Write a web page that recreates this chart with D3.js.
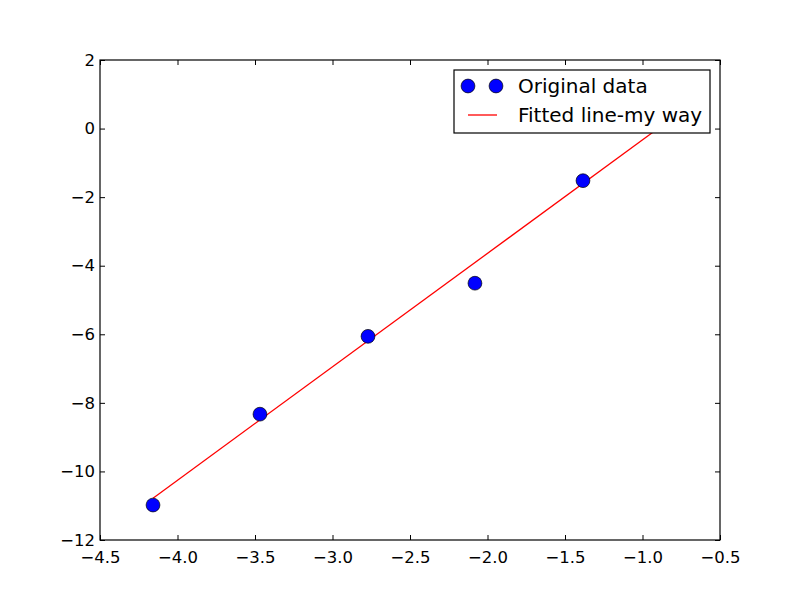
<!DOCTYPE html>
<html>
<head>
<meta charset="utf-8">
<script src="https://cdn.jsdelivr.net/npm/d3@7"></script>
<style>
  body { margin: 0; background: #fff; }
  text { font-family: "DejaVu Sans", sans-serif; }
</style>
</head>
<body>
<div id="chart"></div>
<script>
// data
const xData = [-4.158, -3.468, -2.771, -2.081, -1.384];
const yData = [-10.98, -8.33, -6.06, -4.51, -1.52];
// fitted line end points
const lineX = [-4.158, -0.9];
const lineY = [-10.78, 0.0];
const xTicks = [-4.5, -4.0, -3.5, -3.0, -2.5, -2.0, -1.5, -1.0, -0.5];
const yTicks = [-12, -10, -8, -6, -4, -2, 0, 2];
const legendLabels = ["Original data", "Fitted line-my way"];

const W = 800, H = 600;
const margin = {top: 60, right: 80, bottom: 60, left: 100},
      width = W - margin.left - margin.right,
      height = H - margin.top - margin.bottom;

const svg = d3.select("#chart")
  .append("svg")
    .attr("width", W)
    .attr("height", H);

const g = svg.append("g")
    .attr("transform", `translate(${margin.left}, ${margin.top})`);

const x = d3.scaleLinear().domain([-4.5, -0.5]).range([0, width]);
const y = d3.scaleLinear().domain([-12, 2]).range([height, 0]);

const minus = s => s.replace("-", "\u2212");
const fmtX = d => minus(d3.format(".1f")(d));
const fmtY = d => minus(d3.format("d")(d));

// axes: ticks inside, labels outside
const tickLen = 5;
function styleAxis(sel) {
  sel.select(".domain").remove();
  sel.selectAll("line").attr("stroke", "#000").attr("stroke-width", 1);
  sel.selectAll("text").attr("fill", "#000").style("font-size", "16.5px");
}

g.append("g")
  .attr("transform", `translate(0, ${height})`)
  .call(d3.axisBottom(x).tickValues(xTicks).tickFormat(fmtX).tickSizeInner(-tickLen).tickPadding(11))
  .call(styleAxis);
g.append("g")
  .call(d3.axisTop(x).tickValues(xTicks).tickFormat("").tickSizeInner(-tickLen))
  .call(styleAxis);
g.append("g")
  .call(d3.axisLeft(y).tickValues(yTicks).tickFormat(fmtY).tickSizeInner(-tickLen).tickPadding(5))
  .call(styleAxis);
g.append("g")
  .attr("transform", `translate(${width}, 0)`)
  .call(d3.axisRight(y).tickValues(yTicks).tickFormat("").tickSizeInner(-tickLen))
  .call(styleAxis);

// fitted line
g.append("path")
  .datum(d3.zip(lineX, lineY))
  .attr("fill", "none")
  .attr("stroke", "#ff0000")
  .attr("stroke-width", 1.3)
  .attr("d", d3.line().x(d => x(d[0])).y(d => y(d[1])));

// data points
g.selectAll(".pt")
  .data(d3.zip(xData, yData))
  .join("circle")
    .attr("cx", d => x(d[0]))
    .attr("cy", d => y(d[1]))
    .attr("r", 6.9)
    .attr("fill", "#0000ff")
    .attr("stroke", "#000")
    .attr("stroke-width", 0.7);

// frame
g.append("rect")
  .attr("width", width).attr("height", height)
  .attr("fill", "none").attr("stroke", "#000").attr("stroke-width", 1.2);

// legend
const leg = svg.append("g").attr("transform", "translate(454, 70)");
leg.append("rect")
  .attr("width", 256).attr("height", 63)
  .attr("fill", "#fff").attr("stroke", "#000").attr("stroke-width", 1.2);
[14, 42].forEach(cx => {
  leg.append("circle")
    .attr("cx", cx).attr("cy", 16).attr("r", 6.9)
    .attr("fill", "#0000ff").attr("stroke", "#000").attr("stroke-width", 0.7);
});
leg.append("line")
  .attr("x1", 14).attr("x2", 43).attr("y1", 45).attr("y2", 45)
  .attr("stroke", "#ff0000").attr("stroke-width", 1.3);
leg.selectAll(".lt")
  .data(legendLabels)
  .join("text")
    .attr("x", 64)
    .attr("y", (d, i) => 16 + i * 29)
    .attr("dy", "0.36em")
    .style("font-size", "20px")
    .text(d => d);
</script>
</body>
</html>
